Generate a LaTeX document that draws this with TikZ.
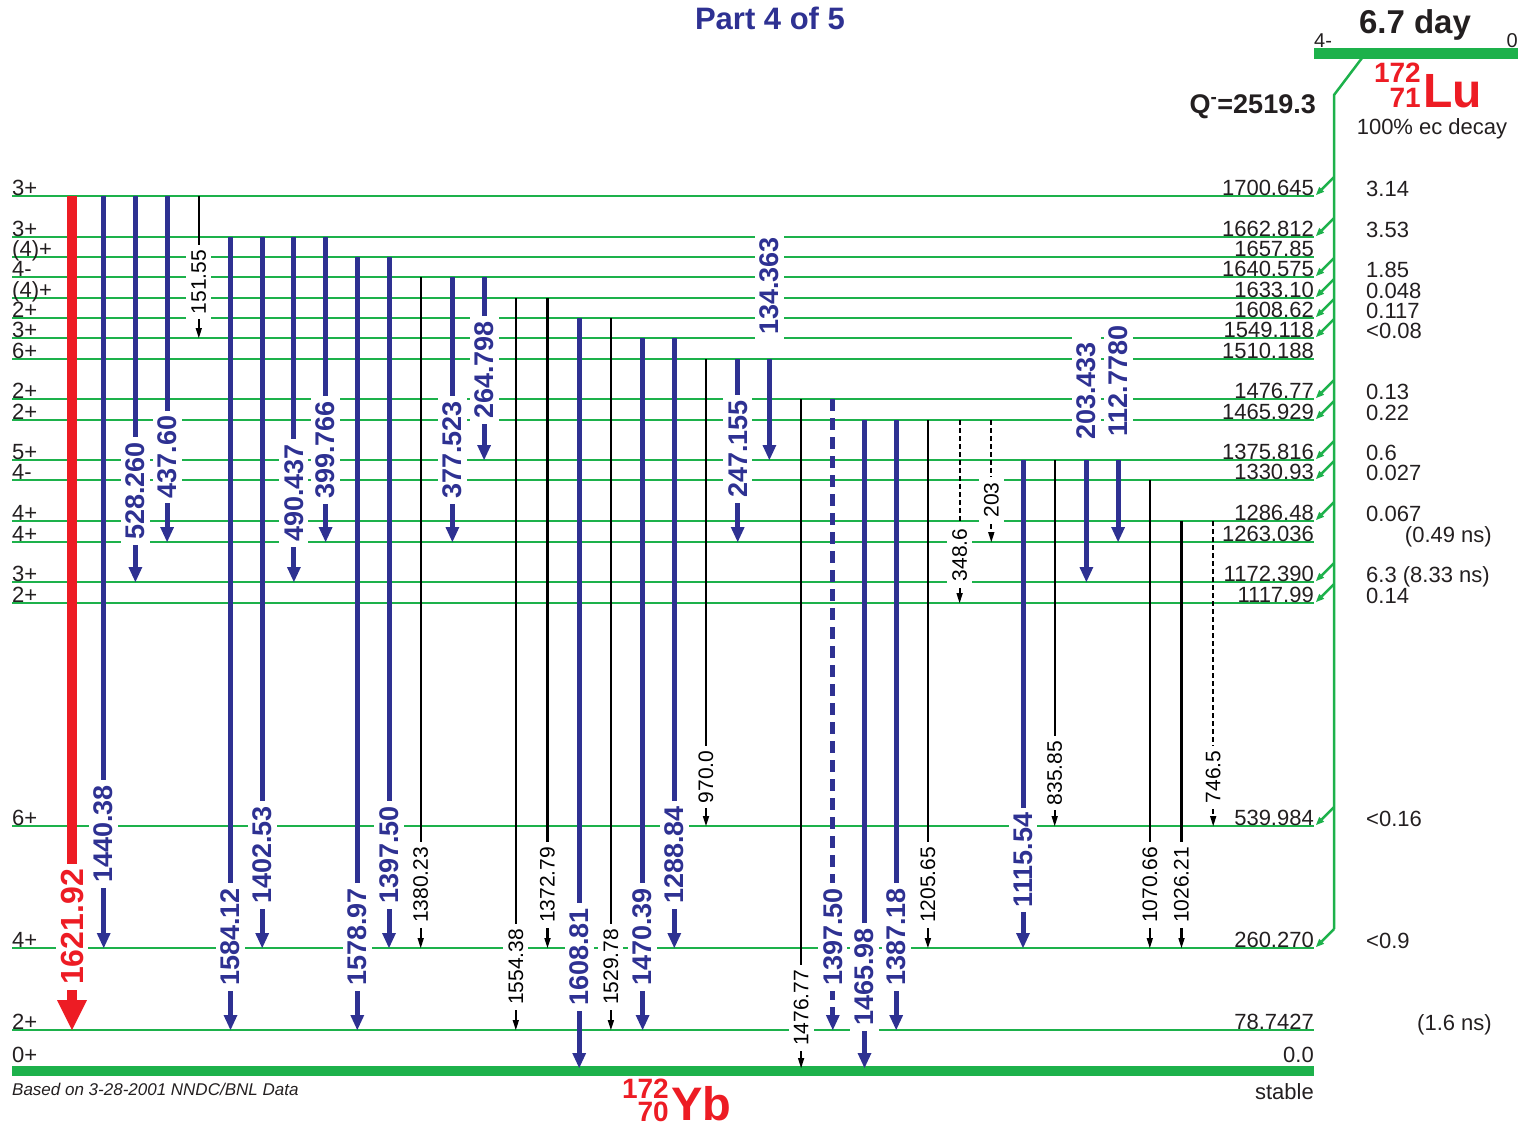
\documentclass[tikz,border=0pt]{standalone}
\usepackage{fontspec}
\setmainfont{Liberation Sans}
\usetikzlibrary{arrows.meta}
\definecolor{ablue}{RGB}{46,49,146}
\definecolor{ared}{RGB}{237,28,36}
\definecolor{agreen}{RGB}{29,177,75}
\definecolor{atext}{RGB}{35,31,32}
\newcommand\fs[1]{\fontsize{#1}{#1}\selectfont}
\newcommand\gtrans[6]{%
  \draw[#6] ({72+31.7*#1},#2) -- ({72+31.7*#1},#3);
  \node[l#6] (g#1) at ({72+31.7*#1},#4) {#5};}
\begin{document}
\begin{tikzpicture}[x=1pt,y=-1pt,
 lvl/.style={draw=agreen,line width=2.6pt},
 spin/.style={anchor=base west,inner sep=0pt,text=atext,font=\fs{22}},
 en/.style={anchor=base east,inner sep=0pt,text=atext,font=\fs{22}},
 inten/.style={anchor=base west,inner sep=0pt,text=atext,font=\fs{22}},
 gblue/.style={draw=ablue,line width=5pt,-{Triangle[length=15pt,width=14pt,line width=0pt]}},
 gbluedash/.style={gblue,dash pattern=on 12pt off 7pt},
 gblack/.style={draw=black,line width=2.2pt,-{Triangle[length=10pt,width=6.5pt,line width=0pt]}},
 gblackdash/.style={gblack,line width=2pt,dash pattern=on 5pt off 3pt},
 gred/.style={draw=ared,line width=10pt,-{Triangle[length=30pt,width=30pt,line width=0pt]}},
 lgblue/.style={rotate=90,fill=white,text=ablue,font=\fs{27}\bfseries,inner xsep=5pt,inner ysep=5pt},
 lgbluedash/.style={lgblue},
 lgblack/.style={rotate=90,fill=white,text=black,font=\fs{21},inner xsep=5pt,inner ysep=5pt},
 lgblackdash/.style={lgblack},
 lgred/.style={rotate=90,fill=white,text=ared,font=\fs{32}\bfseries,inner xsep=5pt,inner ysep=5pt},
 feed/.style={draw=agreen,line width=2.5pt,-{Triangle[length=8pt,width=7pt,line width=0pt]}},
 lab/.style={inner sep=0pt,text=atext},
]
\useasboundingbox (0,0) rectangle (1518,1127);

% title
\node[lab,anchor=base,text=ablue,font=\fs{31}\bfseries] (title) at (770,29) {Part 4 of 5};

% levels
\foreach \y/\s/\e in {196/3+/1700.645, 237/3+/1662.812, 257/{(4)+}/1657.85, 277/4-/1640.575,
  298/{(4)+}/1633.10, 318/2+/1608.62, 338/3+/1549.118, 359/6+/1510.188, 399/2+/1476.77,
  420/2+/1465.929, 460/5+/1375.816, 480/4-/1330.93, 521/4+/1286.48, 542/4+/1263.036,
  582/3+/1172.390, 603/2+/1117.99, 826/6+/539.984, 948/4+/260.270, 1030/2+/78.7427}
{
  \draw[lvl] (12,\y) -- (1314,\y);
  \node[spin] at (12,\y-1) {\s};
  \node[en] at (1314,\y-1) {\e};
}
% ground state
\draw[draw=agreen,line width=10pt] (12,1071) -- (1314,1071);
\node[spin] (gs) at (12,1062) {0+};
\node[en] (gse) at (1314,1062) {0.0};
\node[en] (stable) at (1314,1099) {stable};

% intensities
\foreach \y/\t in {196/3.14, 237/3.53, 277/1.85, 298/0.048, 318/0.117, 338/{<0.08}, 399/0.13,
  420/0.22, 460/0.6, 480/0.027, 521/0.067, 582/{6.3 (8.33 ns)}, 603/0.14, 826/{<0.16}, 948/{<0.9}}
{ \node[inten] at (1366,\y) {\t}; }
\node[en] (t1263) at (1492,542) {(0.49 ns)};
\node[en] (t78) at (1492,1030) {(1.6 ns)};

% parent
\draw[draw=agreen,line width=11pt] (1314,53) -- (1518,53);
\draw[draw=agreen,line width=2.5pt] (1362,58) -- (1334,95) -- (1334,929);
\foreach \y in {196,237,277,298,318,338,399,420,460,480,521,582,603,826,948}
{ \draw[feed] (1334,\y-19) -- (1316,\y-1); }
\node[lab,anchor=base west,font=\fs{20}] (pspin) at (1314,47) {4-};
\node[lab,anchor=base east,font=\fs{20}] (pen) at (1518,47) {0};
\node[lab,anchor=base,font=\fs{33}\bfseries] (half) at (1415,33) {6.7 day};
\node[lab,anchor=base west,text=ared,font=\fs{48}\bfseries] (lu) at (1423,107) {Lu};
\node[lab,anchor=base east,text=ared,font=\fs{28}\bfseries] (lua) at (1421,82) {172};
\node[lab,anchor=base east,text=ared,font=\fs{28}\bfseries] (luz) at (1421,107) {71};
\node[lab,anchor=base,font=\fs{22}] (ec) at (1432,134) {100\% ec decay};
\node[lab,anchor=base east,font=\fs{27}\bfseries] (q) at (1316,113) {Q\textsuperscript{-}=2519.3};

% daughter
\node[lab,anchor=base west,text=ared,font=\fs{47}\bfseries] (yb) at (671,1120) {Yb};
\node[lab,anchor=base east,text=ared,font=\fs{28}\bfseries] (yba) at (669,1098) {172};
\node[lab,anchor=base east,text=ared,font=\fs{28}\bfseries] (ybz) at (669,1121) {70};
\node[lab,anchor=base west,font=\fs{17}\itshape] (based) at (12,1095) {Based on 3-28-2001 NNDC/BNL Data};

% gamma transitions
\gtrans{0}{196}{1030}{927}{1621.92}{gred}
\gtrans{1}{196}{948}{834}{1440.38}{gblue}
\gtrans{2}{196}{582}{491}{528.260}{gblue}
\gtrans{3}{196}{542}{457}{437.60}{gblue}
\gtrans{4}{196}{338}{282}{151.55}{gblack}
\gtrans{5}{237}{1030}{937}{1584.12}{gblue}
\gtrans{6}{237}{948}{855}{1402.53}{gblue}
\gtrans{7}{237}{582}{493}{490.437}{gblue}
\gtrans{8}{237}{542}{450}{399.766}{gblue}
\gtrans{9}{257}{1030}{937}{1578.97}{gblue}
\gtrans{10}{257}{948}{855}{1397.50}{gblue}
\gtrans{11}{277}{948}{885}{1380.23}{gblack}
\gtrans{12}{277}{542}{450}{377.523}{gblue}
\gtrans{13}{277}{460}{370}{264.798}{gblue}
\gtrans{14}{298}{1030}{967}{1554.38}{gblack}
\gtrans{15}{298}{948}{885}{1372.79}{gblack}
\gtrans{16}{318}{1068}{957}{1608.81}{gblue}
\gtrans{17}{318}{1030}{967}{1529.78}{gblack}
\gtrans{18}{338}{1030}{937}{1470.39}{gblue}
\gtrans{19}{338}{948}{855}{1288.84}{gblue}
\gtrans{20}{359}{826}{777}{970.0}{gblack}
\gtrans{21}{359}{542}{449}{247.155}{gblue}
\gtrans{22}{359}{460}{286}{134.363}{gblue}
\gtrans{23}{399}{1068}{1008}{1476.77}{gblack}
\gtrans{24}{399}{1030}{937}{1397.50}{gbluedash}
\gtrans{25}{420}{1068}{977}{1465.98}{gblue}
\gtrans{26}{420}{1030}{937}{1387.18}{gblue}
\gtrans{27}{420}{948}{885}{1205.65}{gblack}
\gtrans{28}{420}{603}{555}{348.6}{gblackdash}
\gtrans{29}{420}{542}{500}{203}{gblackdash}
\gtrans{30}{460}{948}{860}{1115.54}{gblue}
\gtrans{31}{460}{826}{773}{835.85}{gblack}
\gtrans{32}{460}{582}{391}{203.433}{gblue}
\gtrans{33}{460}{542}{381}{112.7780}{gblue}
\gtrans{34}{480}{948}{885}{1070.66}{gblack}
\gtrans{35}{521}{948}{885}{1026.21}{gblack}
\gtrans{36}{521}{826}{777}{746.5}{gblackdash}
\end{tikzpicture}
\end{document}
